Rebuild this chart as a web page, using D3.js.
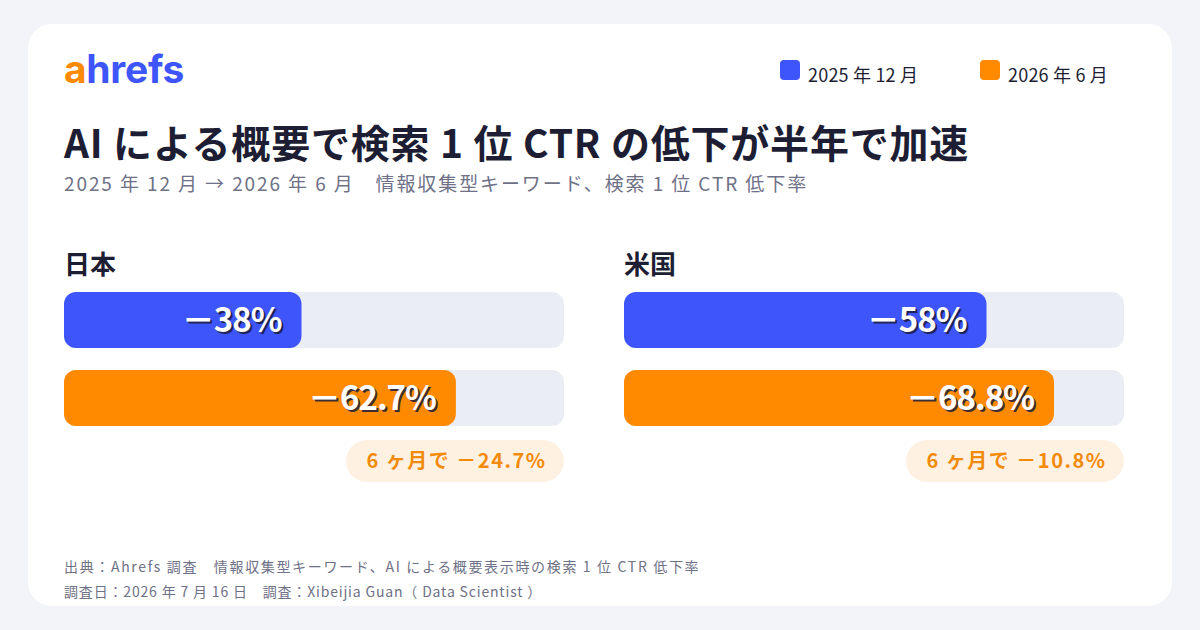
<!DOCTYPE html>
<html><head><meta charset="utf-8">
<script src="https://cdn.jsdelivr.net/npm/d3@7"></script>
<style>
html,body{margin:0;padding:0;background:#f3f4f9;}
svg{display:block;}
text{font-family:"Noto Sans CJK JP","Noto Sans",sans-serif;}
</style></head>
<body><svg id="c" width="1200" height="630"></svg>
<script>
const regions = ["日本", "米国"];
const periods = ["2025 年 12 月", "2026 年 6 月"];
const dec2025 = [38, 58];
const jun2026 = [62.7, 68.8];
const changes = [24.7, 10.8];
const seriesColors = ["#3d55fb", "#ff8a00"];

const svg = d3.select("#c");
svg.append("rect").attr("width",1200).attr("height",630).attr("fill","#f3f4f9");
svg.append("rect").attr("x",28).attr("y",24).attr("width",1144).attr("height",582).attr("rx",24).attr("fill","#ffffff");

// logo
const logo = svg.append("text").attr("x",64).attr("y",83)
  .style("font-family","Inter, 'Noto Sans', sans-serif").style("font-weight",700).style("font-size","39px").style("letter-spacing","-0.3px");
logo.append("tspan").attr("fill","#ff8a00").text("a");
logo.append("tspan").attr("fill","#3d55fb").text("hrefs");

// legend
const legendX = [780, 980];
periods.forEach((p,i)=>{
  svg.append("rect").attr("x",legendX[i]).attr("y",60).attr("width",20).attr("height",20).attr("rx",4).attr("fill",seriesColors[i]);
  svg.append("text").attr("x",legendX[i]+28).attr("y",82).attr("fill","#1d1e33").style("font-size","18px").style("letter-spacing","0.2px").text(p);
});

// title
svg.append("text").attr("x",64).attr("y",158).attr("fill","#1d1e33").style("font-size","39px").style("font-weight",700)
  .style("letter-spacing","0.8px")
  .text("AI による概要で検索 1 位 CTR の低下が半年で加速");
svg.append("text").attr("x",64).attr("y",191).attr("fill","#6e7187").style("font-size","19px")
  .style("letter-spacing","1.9px")
  .text("2025 年 12 月 → 2026 年 6 月　情報収集型キーワード、検索 1 位 CTR 低下率");

// panels
const panelX = d3.scaleBand().domain(regions).range([64, 1124]).paddingInner(60/560);
const trackW = 500;
const x = d3.scaleLinear().domain([0, 80]).range([0, trackW]);
const rowY = d3.scaleOrdinal().domain([0,1]).range([292, 370]);
const barH = 56;

regions.forEach((r,i)=>{
  const g = svg.append("g").attr("transform",`translate(${panelX(r)},0)`);
  g.append("text").attr("x",0).attr("y",274).attr("fill","#1d1e33").style("font-size","26px").style("font-weight",700).text(r);
  const vals = [dec2025[i], jun2026[i]];
  vals.forEach((v,j)=>{
    const y = rowY(j);
    g.append("rect").attr("x",0).attr("y",y).attr("width",trackW).attr("height",barH).attr("rx",12).attr("fill","#ebedf5");
    g.append("rect").attr("x",0).attr("y",y).attr("width",x(v)).attr("height",barH).attr("rx",12).attr("fill",seriesColors[j]);
    const label = "－" + v + "%";
    const tx = x(v) - 20, ty = y + barH/2 + 12;
    g.append("text").attr("x",tx+2).attr("y",ty+2).attr("text-anchor","end").attr("fill","#1a1b3a").attr("fill-opacity",0.85)
      .style("font-size","33px").style("font-weight",700).style("letter-spacing","-1px").text(label);
    g.append("text").attr("x",tx).attr("y",ty).attr("text-anchor","end").attr("fill","#ffffff")
      .style("font-size","33px").style("font-weight",700).style("letter-spacing","-1px").text(label);
  });
  // badge
  const bt = g.append("text").attr("text-anchor","end").attr("fill","#f28a0a")
    .style("font-size","20px").style("font-weight",700).style("letter-spacing","1.5px").text("6 ヶ月で －" + changes[i] + "%");
  const tw = bt.node().getComputedTextLength();
  const pad = 19;
  const bw = tw + pad*2;
  g.insert("rect", () => bt.node()).attr("x",trackW - bw).attr("y",440).attr("width",bw).attr("height",42).attr("rx",21).attr("fill","#fff1e2");
  bt.attr("x",trackW - pad + 1.5).attr("y",468);
});

// footer
svg.append("text").attr("x",64).attr("y",572).attr("fill","#6e7187").style("font-size","14px").style("letter-spacing","1.66px")
  .text("出典：Ahrefs 調査　情報収集型キーワード、AI による概要表示時の検索 1 位 CTR 低下率");
svg.append("text").attr("x",64).attr("y",597).attr("fill","#6e7187").style("font-size","14px").style("letter-spacing","0.83px")
  .text("調査日：2026 年 7 月 16 日　調査：Xibeijia Guan（ Data Scientist ）");
</script></body></html>
